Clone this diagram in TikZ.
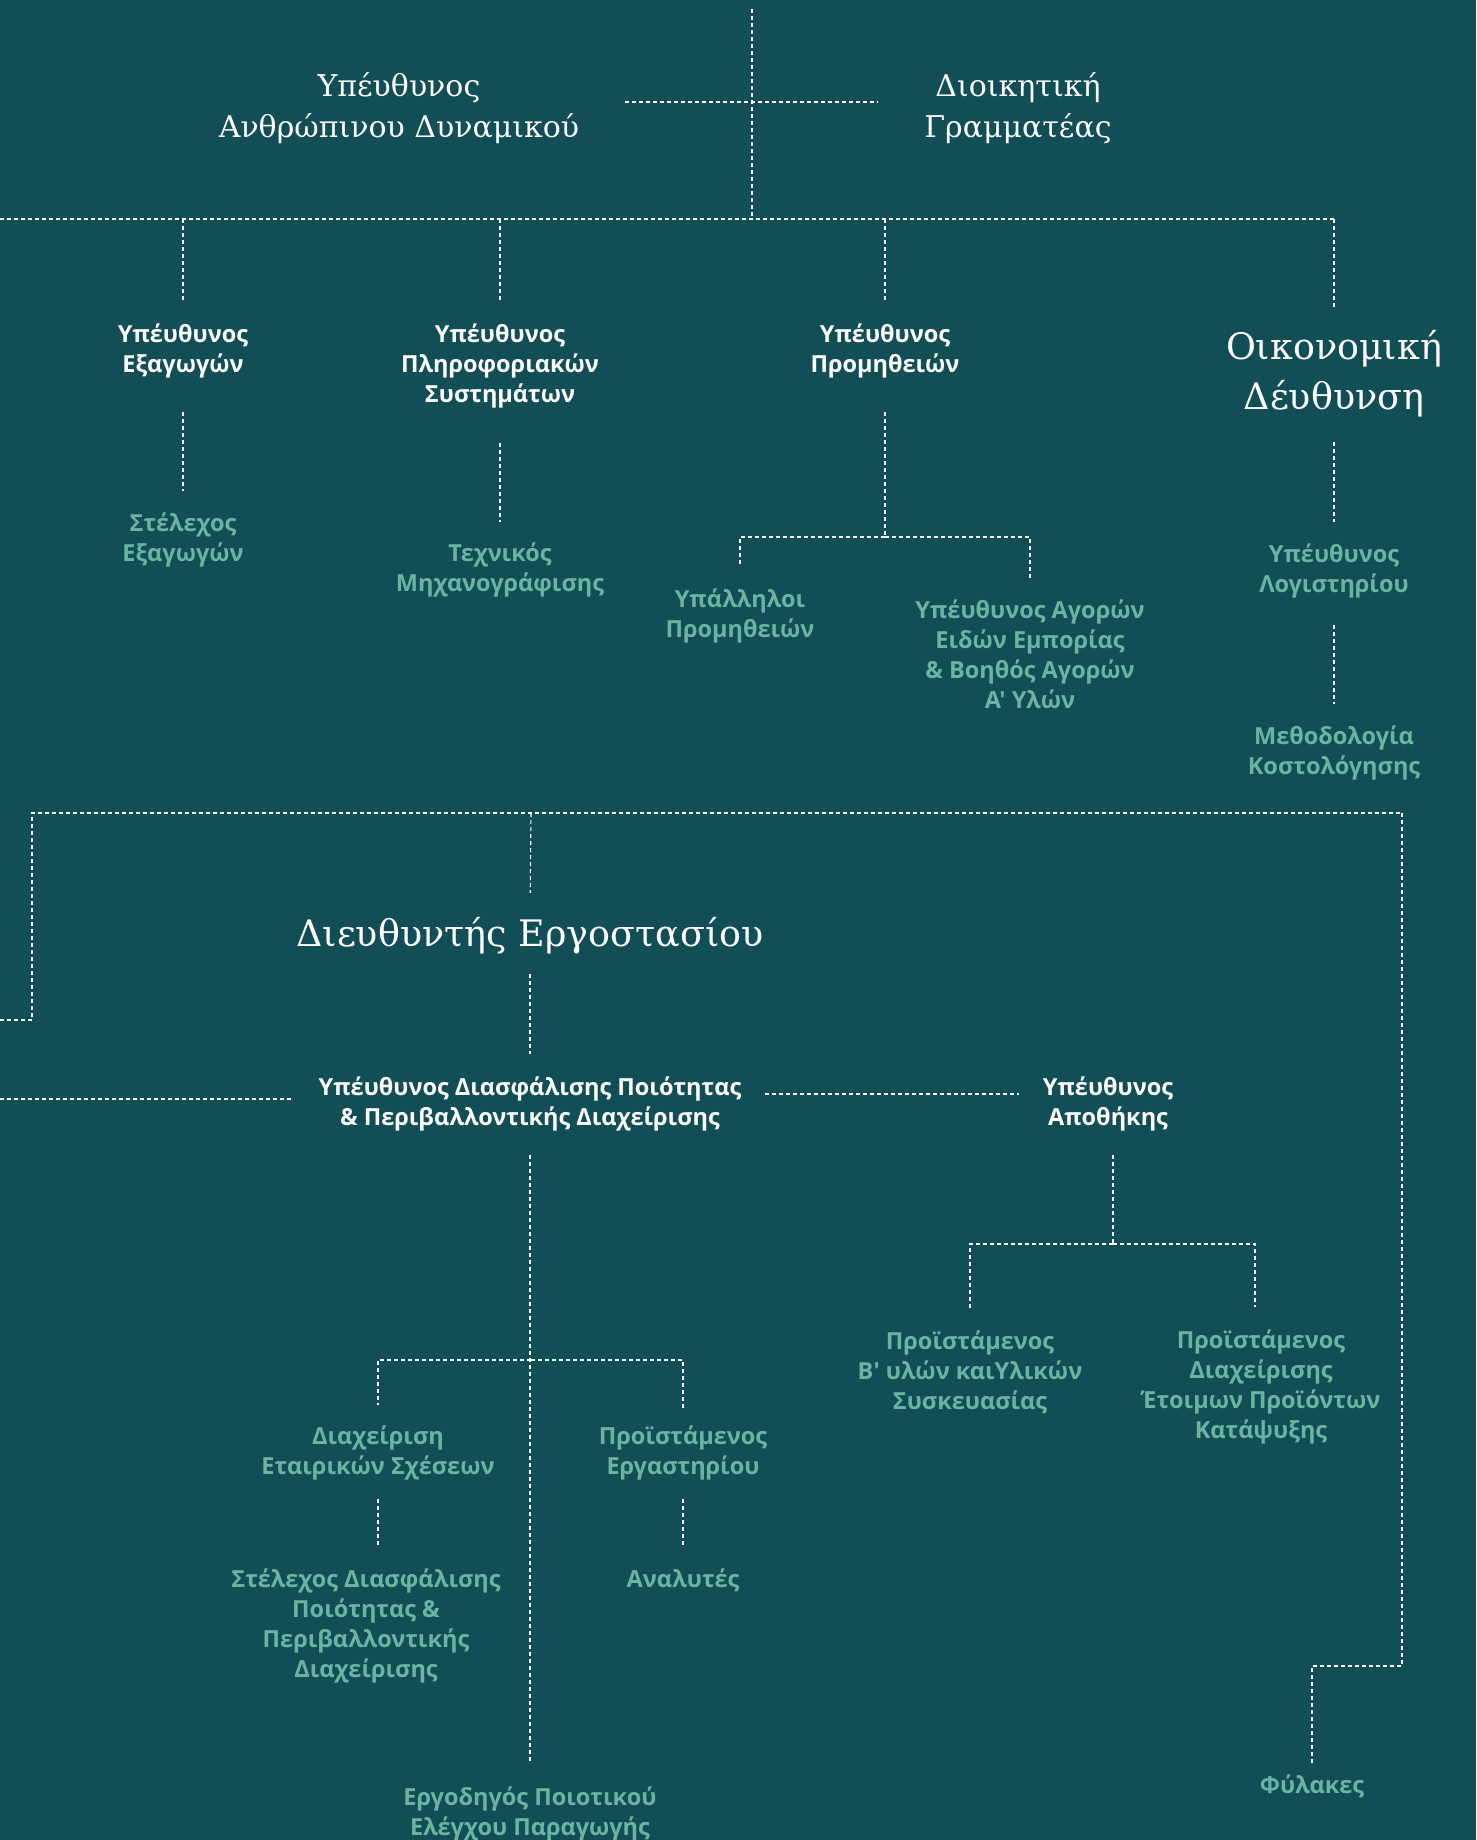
\documentclass[tikz,border=0pt]{standalone}
\usepackage{fontspec}
\setmainfont{DejaVu Serif}
\newfontfamily\leadfont{Open Sans}
\usetikzlibrary{positioning}

\definecolor{bgteal}{HTML}{114E56}
\definecolor{mint}{HTML}{6BB4A2}

\tikzset{
  head/.style={text=white, align=center, inner sep=0pt, yshift=-2.5pt, font=\fontsize{30}{41}\selectfont},
  bighead/.style={text=white, align=center, inner sep=0pt, yshift=-2.5pt, font=\fontsize{36.5}{50}\selectfont},
  lead/.style={text=white, align=center, inner sep=0pt, yshift=-3.5pt, font=\leadfont\bfseries\fontsize{23.5}{30}\selectfont},
  staff/.style={lead, text=mint},
  link/.style={draw=white, line width=1.1pt, dash pattern=on 4pt off 3pt}
}

\begin{document}
\begin{tikzpicture}[x=1pt, y=-1pt]
  \fill[bgteal] (0,0) rectangle (1476,1840);
  \useasboundingbox (0,0) rectangle (1476,1840);

  % top level
  \node[head] (hr) at (399,106) {Υπέυθυνος\\Ανθρώπινου Δυναμικού};
  \node[head] (sec) at (1018,106) {Διοικητική\\Γραμματέας};
  \coordinate (topend) at (752,9);
  \coordinate (bar) at (752,219);
  \coordinate (barleft) at (0,219);
  \coordinate (barright) at (1334,219);
  \draw[link] (topend) -- (bar);
  \draw[link, shorten <=46pt, shorten >=46pt] (hr.east |- 0,102) -- (sec.west |- 0,102);
  \draw[link] (barleft) -- (barright);

  % departments
  \node[lead] (exp) at (183,347) {Υπέυθυνος\\Εξαγωγών};
  \node[lead] (it) at (500,362) {Υπέυθυνος\\Πληροφοριακών\\Συστημάτων};
  \node[lead] (proc) at (885,347) {Υπέυθυνος\\Προμηθειών};
  \node[bighead] (fin) at (1334,371) {Οικονομική\\Δέυθυνση};
  \foreach \n in {exp, it, proc, fin}
    \draw[link, shorten >=22pt] (\n |- bar) -- (\n.north);

  % staff below
  \node[staff] (expst) at (183,536) {Στέλεχος\\Εξαγωγών};
  \node[staff] (tech) at (500,566) {Τεχνικός\\Μηχανογράφισης};
  \node[staff] (procst) at (740,612) {Υπάλληλοι\\Προμηθειών};
  \node[staff] (buy) at (1030,651) {Υπέυθυνος Αγορών\\Ειδών Εμπορίας\\\& Βοηθός Αγορών\\Α' Υλών};
  \node[staff] (acc) at (1334,567) {Υπέυθυνος\\Λογιστηρίου};
  \node[staff] (cost) at (1334,749) {Μεθοδολογία\\Κοστολόγησης};

  \draw[link, shorten <=34pt, shorten >=21pt] (exp) -- (expst);
  \draw[link, shorten <=35pt, shorten >=20pt] (it) -- (tech);
  \draw[link, shorten <=25pt, shorten >=21pt] (fin) -- (acc);
  \draw[link, shorten <=27pt, shorten >=21pt] (acc) -- (cost);
  \coordinate (procj) at (885,537);
  \draw[link, shorten <=34pt] (proc) -- (procj);
  \draw[link, shorten >=22pt] (procj) -| (procst.north);
  \draw[link, shorten >=22pt] (procj) -| (buy.north);

  % factory
  \coordinate (fbarleft) at (32,813);
  \coordinate (fbarright) at (1402,813);
  \coordinate (fbar) at (531,813);
  \coordinate (leftend) at (0,1020);
  \draw[link] (leftend) -| (fbarleft) -- (fbarright);
  \node[bighead] (fac) at (530,933) {Διευθυντής Εργοστασίου};
  \draw[link, shorten >=24pt] (fbar) -- (fac.north);

  \node[lead] (qa) at (530,1100) {Υπέυθυνος Διασφάλισης Ποιότητας\\\& Περιβαλλοντικής Διαχείρισης};
  \node[lead] (wh) at (1108,1100) {Υπέυθυνος\\Αποθήκης};
  \coordinate (qaleft) at (0,1099);
  \draw[link, shorten <=20pt, shorten >=22pt] (fac) -- (qa);
  \draw[link, shorten >=26pt] (qaleft) -- (qa.west |- qaleft);
  \draw[link, shorten <=24pt, shorten >=24pt] (qa.east |- 0,1094) -- (wh.west |- 0,1094);

  % warehouse
  \node[staff] (raw) at (970,1369) {Προϊστάμενος\\Β' υλών καιΥλικών\\Συσκευασίας};
  \node[staff] (frz) at (1261,1383) {Προϊστάμενος\\Διαχείρισης\\Έτοιμων Προϊόντων\\Κατάψυξης};
  \coordinate (whj) at (1113,1244);
  \draw[link, shorten <=24pt] (wh.south -| whj) -- (whj);
  \draw[link, shorten >=22pt] (whj) -| (raw.north);
  \draw[link, shorten >=22pt] (whj) -| ([xshift=-6pt]frz.north);

  % quality
  \node[staff] (pr) at (378,1449) {Διαχείριση\\Εταιρικών Σχέσεων};
  \node[staff] (lab) at (683,1449) {Προϊστάμενος\\Εργαστηρίου};
  \node[staff] (qast) at (366,1622) {Στέλεχος Διασφάλισης\\Ποιότητας \&\\Περιβαλλοντικής\\Διαχείρισης};
  \node[staff] (anl) at (683,1577) {Αναλυτές};
  \node[staff] (fore) at (530,1810) {Εργοδηγός Ποιοτικού\\Ελέγχου Παραγωγής};
  \coordinate (qaj) at (531,1360);
  \draw[link, shorten <=24pt, shorten >=24pt] (qa) -- (fore);
  \draw[link, shorten >=20pt] (qaj) -| (pr.north);
  \draw[link, shorten >=15pt] (qaj) -| (lab.north);
  \draw[link, shorten <=19pt, shorten >=22pt] (pr.south) -- (pr.south |- qast.north);
  \draw[link, shorten <=19pt, shorten >=22pt] (lab) -- (anl);

  % guards
  \node[staff] (guard) at (1312,1783) {Φύλακες};
  \coordinate (gturn) at (1402,1666);
  \draw[link, shorten >=12pt] (fbarright) -- (gturn) -| (guard.north);
\end{tikzpicture}
\end{document}
